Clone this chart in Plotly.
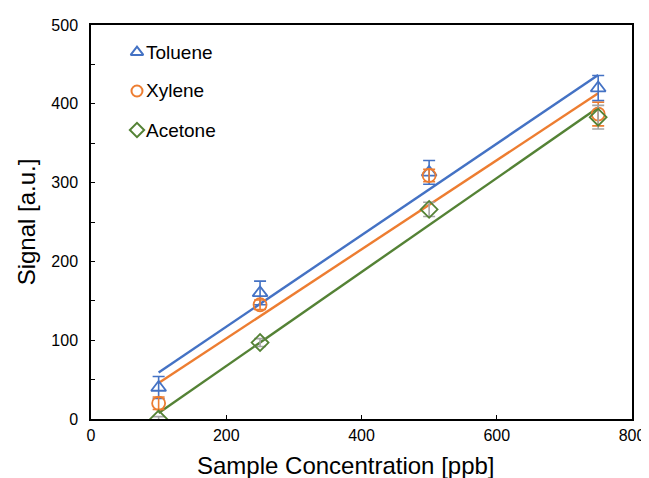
import numpy as np
import plotly.graph_objects as go

conc = [100, 250, 500, 750]
toluene = [40, 160, 313, 420]
toluene_err = [14, 15, 15, 16]
xylene = [20, 145, 309, 387]
xylene_err = [8, 6, 8, 15]
acetone = [0, 97, 266, 383]
acetone_err = [3, 5, 9, 15]

x_ticks = [0, 200, 400, 600, 800]
y_ticks = [0, 100, 200, 300, 400, 500]

x_title = "Sample Concentration [ppb]"
y_title = "Signal [a.u.]"

series = [
    ("Toluene", toluene, toluene_err, "#4472C4", "#4472C4", "triangle-up-open"),
    ("Xylene", xylene, xylene_err, "#ED7D31", "#ED7D31", "circle-open"),
    ("Acetone", acetone, acetone_err, "#548235", "#A5A5A5", "diamond-open"),
]

# legend layout (paper fractions)
leg_marker_x = 0.085
leg_text_x = 0.098
leg_rows_y = [0.931, 0.8325, 0.7335]

fig = go.Figure()
xs = np.array(conc, dtype=float)
for name, ys, err, col, ecol, sym in series:
    k, b = np.polyfit(xs, np.array(ys, dtype=float), 1)
    xl = np.array([xs.min(), xs.max()])
    fig.add_trace(go.Scatter(x=xl, y=k * xl + b, mode="lines",
                             line=dict(color=col, width=2.4),
                             showlegend=False, hoverinfo="skip"))
for name, ys, err, col, ecol, sym in series:
    fig.add_trace(go.Scatter(
        x=conc, y=ys, mode="markers", name=name, showlegend=False,
        marker=dict(symbol=sym, size=13, color=col, line=dict(color=col, width=1.8)),
        error_y=dict(type="data", array=err, visible=True, color=ecol, thickness=1.6, width=6),
    ))

annotations = []
for (name, ys, err, col, ecol, sym), yy in zip(series, leg_rows_y):
    fig.add_trace(go.Scatter(
        x=[leg_marker_x], y=[yy], xaxis="x2", yaxis="y2", mode="markers",
        showlegend=False, hoverinfo="skip",
        marker=dict(symbol=sym, size=11, color=col, line=dict(color=col, width=2)),
    ))
    annotations.append(dict(x=leg_text_x, y=yy, xref="paper", yref="paper", text=name,
                            showarrow=False, xanchor="left", yanchor="middle",
                            font=dict(size=19, color="black")))

annotations.append(dict(x=0.472, y=-0.117, xref="paper", yref="paper", text=x_title,
                        showarrow=False, xanchor="center", yanchor="middle",
                        font=dict(size=24, color="black")))

# page body has an 8px margin, so the figure is drawn 8px smaller and offset
fig.update_layout(
    width=641, height=470,
    margin=dict(l=83, r=17, t=17, b=59, autoexpand=False),
    paper_bgcolor="white", plot_bgcolor="white",
    font=dict(family="Liberation Sans, Arial, Helvetica, sans-serif", color="black"),
    showlegend=False,
    annotations=annotations,
    xaxis2=dict(overlaying="x", range=[0, 1], visible=False, fixedrange=True),
    yaxis2=dict(overlaying="y", range=[0, 1], visible=False, fixedrange=True),
)
fig.layout.xaxis.update(range=[0, 800], tickvals=x_ticks, ticktext=[str(v) for v in x_ticks],
                        showgrid=False, zeroline=False, showline=True, linecolor="black",
                        linewidth=1.5, mirror=True, ticks="inside", ticklen=4, tickwidth=1.3,
                        tickcolor="black", tickfont=dict(size=16), automargin=False,
                        ticklabelstandoff=1)
fig.layout.yaxis.update(range=[0, 500], tickvals=y_ticks, ticktext=[str(v) for v in y_ticks],
                        showgrid=False, zeroline=False, showline=True, linecolor="black",
                        linewidth=1.5, mirror=True, ticks="inside", ticklen=4, tickwidth=1.3,
                        tickcolor="black", tickfont=dict(size=16), automargin=False,
                        ticklabelstandoff=8,
                        minor=dict(dtick=50, ticks="inside", ticklen=4, tickwidth=1.3, tickcolor="black"),
                        title=dict(text=y_title, font=dict(size=24), standoff=9))

fig.write_html("out.html")
